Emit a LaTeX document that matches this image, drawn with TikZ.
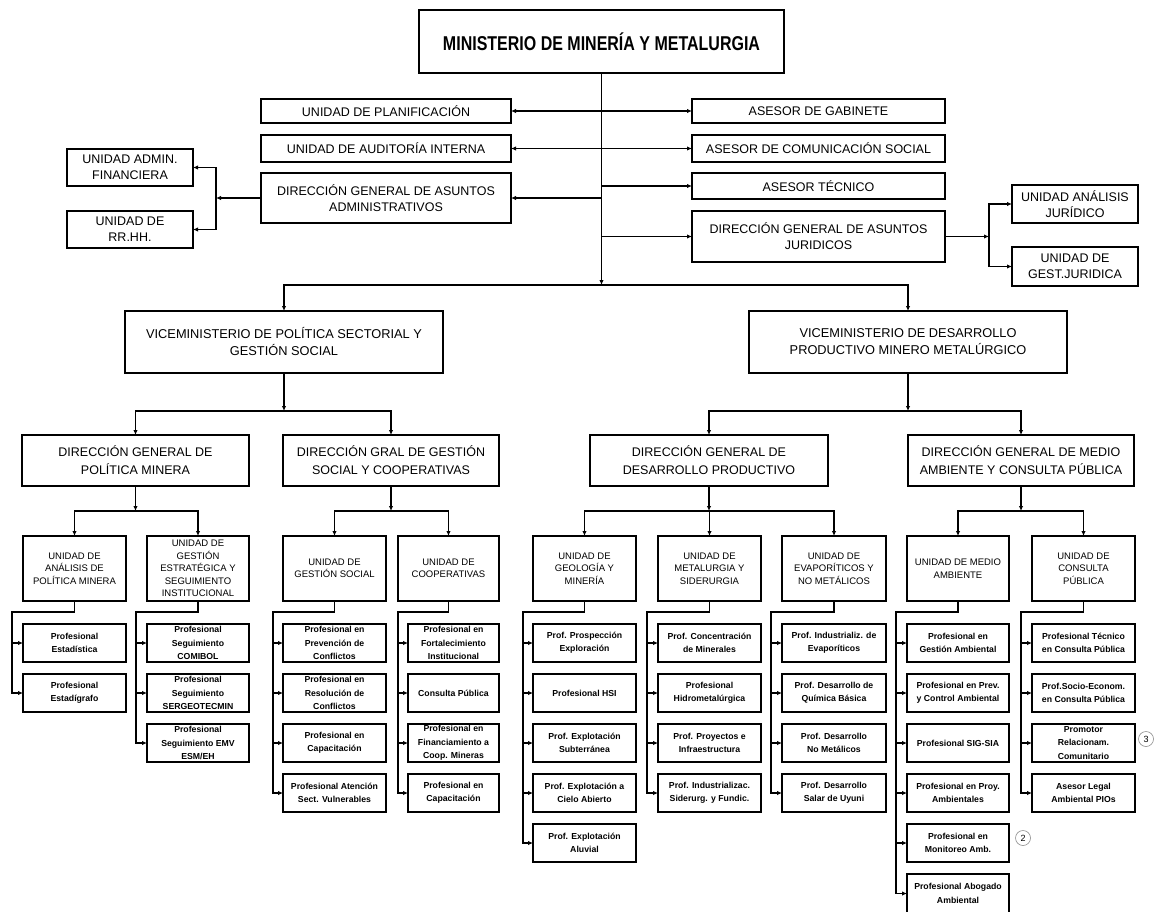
\documentclass[tikz,border=0pt]{standalone}
\usepackage{fontspec}
\setmainfont{Liberation Sans}
\usetikzlibrary{arrows.meta}
\newcommand{\mkbox}[7]{\node[bx,#6,minimum width={((#4)-(#2))*1pt},minimum height={((#5)-(#3))*1pt}] (#1) at ({((#2)+(#4))/2},{((#3)+(#5))/2}) {#7};}
\newcommand{\pbox}[5]{\mkbox{#1}{#2}{624+50*#4}{#3}{662+50*#4}{txpf}{#5}}
\begin{document}
\begin{tikzpicture}[x=1pt,y=-1pt,
  bx/.style={draw=black, line width=1.4pt, inner sep=0pt, outer sep=0pt, align=center, text=black},
  txtop/.style={font=\fontsize{12.5}{16}\selectfont},
  txvic/.style={font=\fontsize{12.8}{17}\selectfont},
  txdg/.style={font=\fontsize{12.5}{18}\selectfont},
  txun/.style={font=\fontsize{9.5}{12.5}\selectfont},
  txpf/.style={font=\fontsize{8.7}{13.3}\selectfont\bfseries},
  con/.style={line width=1.1pt, draw=black},
  arr/.style={con, -{Latex[length=5pt,width=4.5pt]}},
  arrb/.style={con, {Latex[length=5pt,width=4.5pt]}-{Latex[length=5pt,width=4.5pt]}},
  num/.style={circle, draw=black!45, line width=0.6pt, inner sep=0pt, minimum size=15pt, font=\fontsize{9}{9}\selectfont}]
\useasboundingbox (0,0) rectangle (1156,911);
\fill[white] (0,0) rectangle (1156,911);

% ---------- top ----------
\mkbox{min}{419}{10}{784}{73}{}{\scalebox{0.8}[1]{\fontsize{20}{24}\selectfont\bfseries MINISTERIO DE MINERÍA Y METALURGIA}}
\mkbox{plan}{261}{99}{511}{123}{txtop}{UNIDAD DE PLANIFICACIÓN}
\mkbox{aud}{261}{135}{511}{162}{txtop}{UNIDAD DE AUDITORÍA INTERNA}
\mkbox{dgaa}{261}{173}{511}{223}{txtop}{DIRECCIÓN GENERAL DE ASUNTOS\\ADMINISTRATIVOS}
\mkbox{gab}{692}{99}{945}{123}{txtop}{ASESOR DE GABINETE}
\mkbox{com}{692}{135}{945}{162}{txtop}{ASESOR DE COMUNICACIÓN SOCIAL}
\mkbox{tec}{692}{173}{945}{199}{txtop}{ASESOR TÉCNICO}
\mkbox{dgaj}{692}{211}{945}{262}{txtop}{DIRECCIÓN GENERAL DE ASUNTOS\\JURIDICOS}
\mkbox{uaf}{67}{149}{193}{186}{txtop}{UNIDAD ADMIN.\\FINANCIERA}
\mkbox{urh}{67}{211}{193}{248}{txtop}{UNIDAD DE\\RR.HH.}
\mkbox{uaj}{1012}{185}{1138}{223}{txtop}{UNIDAD ANÁLISIS\\JURÍDICO}
\mkbox{ugj}{1012}{247}{1138}{286}{txtop}{UNIDAD DE\\GEST.JURIDICA}

\coordinate (hub) at (601.5,285);
\coordinate (ba) at (216,198);
\coordinate (bj) at (989,236.5);
\draw[arr] (min.south) -- (hub);
\draw[arrb] (plan.east) -- (gab.west);
\draw[arrb] (aud.east) -- (com.west);
\draw[arr] (min.south |- dgaa.east) -- (dgaa.east);
\draw[arr] (min.south |- tec.west) -- (tec.west);
\draw[arr] (min.south |- dgaj.west) -- (dgaj.west);
\draw[arr] (dgaa.west) -- (ba);
\draw[arr] (ba) |- (uaf.east);
\draw[arr] (ba) |- (urh.east);
\draw[arr] (dgaj.east) -- (bj);
\draw[arr] (bj) |- (uaj.west);
\draw[arr] (bj) |- (ugj.west);

% ---------- viceministerios ----------
\mkbox{v1}{125}{311}{443}{373}{txvic}{VICEMINISTERIO DE POLÍTICA SECTORIAL Y\\GESTIÓN SOCIAL}
\mkbox{v2}{749}{311}{1067}{373}{txvic}{VICEMINISTERIO DE DESARROLLO\\PRODUCTIVO MINERO METALÚRGICO}
\draw[arr] (hub) -| (v1.north);
\draw[arr] (hub) -| (v2.north);

% ---------- direcciones ----------
\mkbox{dg1}{22}{435}{249}{486}{txdg}{DIRECCIÓN GENERAL DE\\POLÍTICA MINERA}
\mkbox{dg2}{283}{435}{499}{486}{txdg}{DIRECCIÓN GRAL DE GESTIÓN\\SOCIAL Y COOPERATIVAS}
\mkbox{dg3}{590}{435}{828}{486}{txdg}{DIRECCIÓN GENERAL DE\\DESARROLLO PRODUCTIVO}
\mkbox{dg4}{908}{435}{1134}{486}{txdg}{DIRECCIÓN GENERAL DE MEDIO\\AMBIENTE Y CONSULTA PÚBLICA}
\coordinate (h1) at (284,411);
\coordinate (h2) at (908,411);
\draw[arr] (v1.south) -- (h1);
\draw[arr] (h1) -| (dg1.north);
\draw[arr] (h1) -| (dg2.north);
\draw[arr] (v2.south) -- (h2);
\draw[arr] (h2) -| (dg3.north);
\draw[arr] (h2) -| (dg4.north);

% ---------- unidades ----------
\mkbox{u1}{23}{536}{126}{601}{txun}{UNIDAD DE\\ANÁLISIS DE\\POLÍTICA MINERA}
\mkbox{u2}{147}{536}{249}{601}{txun}{UNIDAD DE\\GESTIÓN\\ESTRATÉGICA Y\\SEGUIMIENTO\\INSTITUCIONAL}
\mkbox{u3}{283}{536}{386}{601}{txun}{UNIDAD DE\\GESTIÓN SOCIAL}
\mkbox{u4}{398}{536}{499}{601}{txun}{UNIDAD DE\\COOPERATIVAS}
\mkbox{u5}{533}{536}{636}{601}{txun}{UNIDAD DE\\GEOLOGÍA Y\\MINERÍA}
\mkbox{u6}{658}{536}{761}{601}{txun}{UNIDAD DE\\METALURGIA Y\\SIDERURGIA}
\mkbox{u7}{782}{536}{886}{601}{txun}{UNIDAD DE\\EVAPORÍTICOS Y\\NO METÁLICOS}
\mkbox{u8}{907}{536}{1009}{601}{txun}{UNIDAD DE MEDIO\\AMBIENTE}
\mkbox{u9}{1032}{536}{1135}{601}{txun}{UNIDAD DE\\CONSULTA\\PÚBLICA}
\coordinate (k1) at (135.5,511);
\coordinate (k2) at (391,511);
\coordinate (k3) at (709,511);
\coordinate (k4) at (1021,511);
\draw[arr] (dg1.south) -- (k1);
\draw[arr] (k1) -| (u1.north);
\draw[arr] (k1) -| (u2.north);
\draw[arr] (dg2.south) -- (k2);
\draw[arr] (k2) -| (u3.north);
\draw[arr] (k2) -| (u4.north);
\draw[arr] (dg3.south) -- (k3);
\draw[arr] (k3) -| (u5.north);
\draw[arr] (k3) -| (u6.north);
\draw[arr] (k3) -| (u7.north);
\draw[arr] (dg4.south) -- (k4);
\draw[arr] (k4) -| (u8.north);
\draw[arr] (k4) -| (u9.north);

% ---------- profesionales ----------
\pbox{pA0}{23}{126}{0}{Profesional\\Estadística}
\pbox{pA1}{23}{126}{1}{Profesional\\Estadígrafo}

\pbox{pB0}{147}{249}{0}{Profesional\\Seguimiento\\COMIBOL}
\pbox{pB1}{147}{249}{1}{Profesional\\Seguimiento\\SERGEOTECMIN}
\pbox{pB2}{147}{249}{2}{Profesional\\Seguimiento EMV\\ESM/EH}

\pbox{pC0}{283}{386}{0}{Profesional en\\Prevención de\\Conflictos}
\pbox{pC1}{283}{386}{1}{Profesional en\\Resolución de\\Conflictos}
\pbox{pC2}{283}{386}{2}{Profesional en\\Capacitación}
\pbox{pC3}{283}{386}{3}{Profesional Atención\\Sect. Vulnerables}

\pbox{pD0}{408}{499}{0}{Profesional en\\Fortalecimiento\\Institucional}
\pbox{pD1}{408}{499}{1}{Consulta Pública}
\pbox{pD2}{408}{499}{2}{Profesional en\\Financiamiento a\\Coop. Mineras}
\pbox{pD3}{408}{499}{3}{Profesional en\\Capacitación}

\pbox{pE0}{533}{636}{0}{Prof. Prospección\\Exploración}
\pbox{pE1}{533}{636}{1}{Profesional HSI}
\pbox{pE2}{533}{636}{2}{Prof. Explotación\\Subterránea}
\pbox{pE3}{533}{636}{3}{Prof. Explotación a\\Cielo Abierto}
\pbox{pE4}{533}{636}{4}{Prof. Explotación\\Aluvial}

\pbox{pF0}{658}{761}{0}{Prof. Concentración\\de Minerales}
\pbox{pF1}{658}{761}{1}{Profesional\\Hidrometalúrgica}
\pbox{pF2}{658}{761}{2}{Prof. Proyectos e\\Infraestructura}
\pbox{pF3}{658}{761}{3}{Prof. Industrializac.\\Siderurg. y Fundic.}

\pbox{pG0}{782}{886}{0}{Prof. Industrializ. de\\Evaporíticos}
\pbox{pG1}{782}{886}{1}{Prof. Desarrollo de\\Química Básica}
\pbox{pG2}{782}{886}{2}{Prof. Desarrollo\\No Metálicos}
\pbox{pG3}{782}{886}{3}{Prof. Desarrollo\\Salar de Uyuni}

\pbox{pH0}{907}{1009}{0}{Profesional en\\Gestión Ambiental}
\pbox{pH1}{907}{1009}{1}{Profesional en Prev.\\y Control Ambiental}
\pbox{pH2}{907}{1009}{2}{Profesional SIG-SIA}
\pbox{pH3}{907}{1009}{3}{Profesional en Proy.\\Ambientales}
\pbox{pH4}{907}{1009}{4}{Profesional en\\Monitoreo Amb.}
\mkbox{pH5}{907}{874}{1009}{913}{txpf}{Profesional Abogado\\Ambiental}

\pbox{pI0}{1032}{1135}{0}{Profesional Técnico\\en Consulta Pública}
\pbox{pI1}{1032}{1135}{1}{Prof.Socio-Econom.\\en Consulta Pública}
\pbox{pI2}{1032}{1135}{2}{Promotor\\Relacionam.\\Comunitario}
\pbox{pI3}{1032}{1135}{3}{Asesor Legal\\Ambiental PIOs}

% connectors unit -> profesionales
\coordinate (t1) at (12,612);
\coordinate (t2) at (136,612);
\coordinate (t3) at (273,612);
\coordinate (t4) at (398,612);
\coordinate (t5) at (523,612);
\coordinate (t6) at (647,612);
\coordinate (t7) at (771,612);
\coordinate (t8) at (896,612);
\coordinate (t9) at (1021,612);

\draw[arr] (u1.south) |- (t1) |- (pA1.west);
\draw[arr] (t1 |- pA0.west) -- (pA0.west);

\draw[arr] (u2.south) |- (t2) |- (pB2.west);
\draw[arr] (t2 |- pB0.west) -- (pB0.west);
\draw[arr] (t2 |- pB1.west) -- (pB1.west);

\draw[arr] (u3.south) |- (t3) |- (pC3.west);
\draw[arr] (t3 |- pC0.west) -- (pC0.west);
\draw[arr] (t3 |- pC1.west) -- (pC1.west);
\draw[arr] (t3 |- pC2.west) -- (pC2.west);

\draw[arr] (u4.south) |- (t4) |- (pD3.west);
\draw[arr] (t4 |- pD0.west) -- (pD0.west);
\draw[arr] (t4 |- pD1.west) -- (pD1.west);
\draw[arr] (t4 |- pD2.west) -- (pD2.west);

\draw[arr] (u5.south) |- (t5) |- (pE4.west);
\draw[arr] (t5 |- pE0.west) -- (pE0.west);
\draw[arr] (t5 |- pE1.west) -- (pE1.west);
\draw[arr] (t5 |- pE2.west) -- (pE2.west);
\draw[arr] (t5 |- pE3.west) -- (pE3.west);

\draw[arr] (u6.south) |- (t6) |- (pF3.west);
\draw[arr] (t6 |- pF0.west) -- (pF0.west);
\draw[arr] (t6 |- pF1.west) -- (pF1.west);
\draw[arr] (t6 |- pF2.west) -- (pF2.west);

\draw[arr] (u7.south) |- (t7) |- (pG3.west);
\draw[arr] (t7 |- pG0.west) -- (pG0.west);
\draw[arr] (t7 |- pG1.west) -- (pG1.west);
\draw[arr] (t7 |- pG2.west) -- (pG2.west);

\draw[arr] (u8.south) |- (t8) |- (pH5.west);
\draw[arr] (t8 |- pH0.west) -- (pH0.west);
\draw[arr] (t8 |- pH1.west) -- (pH1.west);
\draw[arr] (t8 |- pH2.west) -- (pH2.west);
\draw[arr] (t8 |- pH3.west) -- (pH3.west);
\draw[arr] (t8 |- pH4.west) -- (pH4.west);

\draw[arr] (u9.south) |- (t9) |- (pI3.west);
\draw[arr] (t9 |- pI0.west) -- (pI0.west);
\draw[arr] (t9 |- pI1.west) -- (pI1.west);
\draw[arr] (t9 |- pI2.west) -- (pI2.west);

% circled numbers
\node[num] (c3) at (1146,739) {3};
\node[num] (c2) at (1023,838) {2};
\end{tikzpicture}
\end{document}
